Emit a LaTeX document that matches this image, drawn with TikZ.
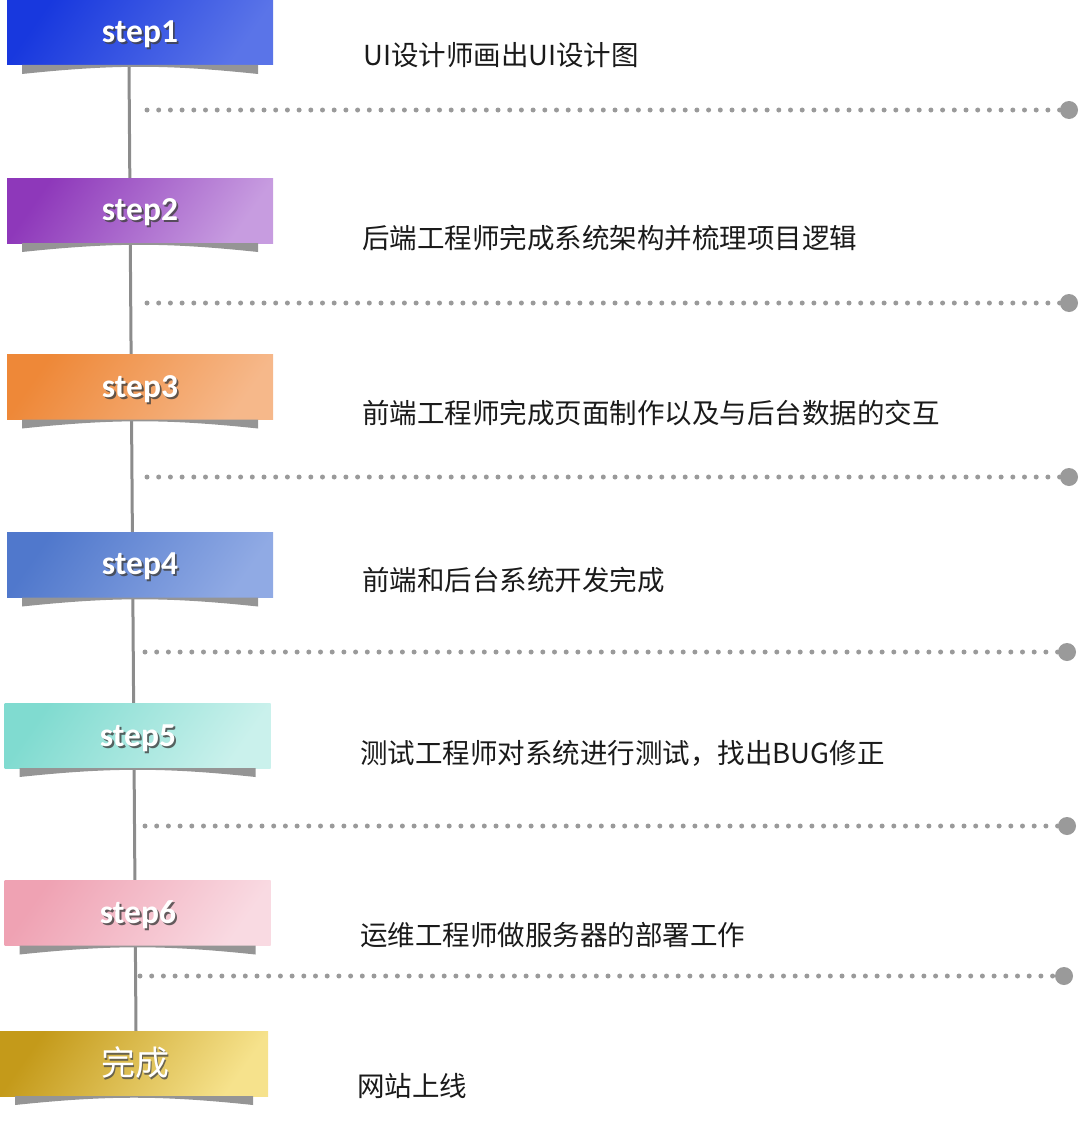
\documentclass[tikz,border=0pt]{standalone}
\usepackage{fontspec}
\newfontfamily\cjk{Noto Sans CJK SC}
\newfontfamily\stepfont{Carlito}
\definecolor{lgray}{HTML}{8C8C8C}
\definecolor{dgray}{HTML}{9A9A9A}
\definecolor{sgray}{HTML}{959595}
\definecolor{txt}{HTML}{1A1A1A}
\definecolor{aL}{HTML}{1838DE}\definecolor{aR}{HTML}{5A74E8}
\definecolor{bL}{HTML}{8E38BA}\definecolor{bR}{HTML}{C79CE0}
\definecolor{cL}{HTML}{EE8838}\definecolor{cR}{HTML}{F6B88A}
\definecolor{dL}{HTML}{5078CC}\definecolor{dR}{HTML}{90AAE4}
\definecolor{eL}{HTML}{80DBD0}\definecolor{eR}{HTML}{CAF1EC}
\definecolor{fL}{HTML}{EFA2B3}\definecolor{fR}{HTML}{F9DAE2}
\definecolor{gL}{HTML}{C49A1A}\definecolor{gR}{HTML}{F6E28C}
\tikzset{
  stepbox/.style={minimum width=266pt, minimum height=65pt, inner sep=0pt, outer sep=0pt},
  steplabel/.style={text=white, font=\stepfont\bfseries\fontsize{33.5}{33.5}\selectfont, inner sep=0pt},
  steplabelsh/.style={text=black!75, opacity=0.8, font=\stepfont\bfseries\fontsize{33.5}{33.5}\selectfont, inner sep=0pt},
  donelabel/.style={text=white, font=\cjk\fontsize{34}{34}\selectfont, inner sep=0pt},
  donelabelsh/.style={text=black!70, opacity=0.8, font=\cjk\fontsize{34}{34}\selectfont, inner sep=0pt},
  desc/.style={anchor=west, text=txt, font=\cjk\fontsize{27.5}{27.5}\selectfont, inner sep=0pt},
  dotline/.style={draw=dgray, line width=5pt, line cap=round, dash pattern=on 0pt off 11.7pt},
  enddot/.style={circle, fill=dgray, minimum size=18pt, inner sep=0pt},
  vline/.style={draw=lgray, line width=3pt},
  shadowfill/.style={fill=sgray}
}
\newcommand{\boxshadow}[1]{%
  \fill[shadowfill] ([xshift=15pt]#1.south west) -- ([xshift=-15pt]#1.south east)
    -- ([xshift=-15pt,yshift=-9pt]#1.south east) to[bend right=6] ([xshift=15pt,yshift=-9pt]#1.south west) -- cycle;}
\begin{document}
\begin{tikzpicture}[x=1pt,y=-1pt]
\useasboundingbox (0,0) rectangle (1080,1124);
% vertical line
\coordinate (vtop) at (129,65);
\coordinate (vbot) at (136,1031);
\draw[vline] (vtop) -- (vbot);
% boxes
\node[stepbox, left color=aL, right color=aR, shading angle=55] (b1) at (140,32.5) {};
\node[stepbox, left color=bL, right color=bR, shading angle=55] (b2) at (140,210.5) {};
\node[stepbox, left color=cL, right color=cR, shading angle=55] (b3) at (140,387) {};
\node[stepbox, left color=dL, right color=dR, shading angle=55] (b4) at (140,565) {};
\node[stepbox, left color=eL, right color=eR, shading angle=55] (b5) at (137.5,735.5) {};
\node[stepbox, left color=fL, right color=fR, shading angle=55] (b6) at (137.5,913) {};
\node[stepbox, minimum width=268pt, left color=gL, right color=gR, shading angle=55] (b7) at (134,1063.5) {};
\boxshadow{b1}\boxshadow{b2}\boxshadow{b3}\boxshadow{b4}\boxshadow{b5}\boxshadow{b6}\boxshadow{b7}
% labels
\node[steplabelsh] (s1) at ([shift={(1.8pt,-1.8pt)}]140,34) {step1};
\node[steplabel] (l1) at (140,34) {step1};
\node[steplabelsh] (s2) at ([shift={(1.8pt,-1.8pt)}]140,212) {step2};
\node[steplabel] (l2) at (140,212) {step2};
\node[steplabelsh] (s3) at ([shift={(1.8pt,-1.8pt)}]140,389) {step3};
\node[steplabel] (l3) at (140,389) {step3};
\node[steplabelsh] (s4) at ([shift={(1.8pt,-1.8pt)}]140,566) {step4};
\node[steplabel] (l4) at (140,566) {step4};
\node[steplabelsh] (s5) at ([shift={(1.8pt,-1.8pt)}]138,738) {step5};
\node[steplabel] (l5) at (138,738) {step5};
\node[steplabelsh] (s6) at ([shift={(1.8pt,-1.8pt)}]138,915) {step6};
\node[steplabel] (l6) at (138,915) {step6};
\node[donelabelsh] (s7) at ([shift={(1.8pt,-1.8pt)}]135,1063) {完成};
\node[donelabel] (l7) at (135,1063) {完成};
% descriptions
\node[desc] (d1) at (363,55) {UI设计师画出UI设计图};
\node[desc] (d2) at (362,238) {后端工程师完成系统架构并梳理项目逻辑};
\node[desc] (d3) at (362,413) {前端工程师完成页面制作以及与后台数据的交互};
\node[desc] (d4) at (362,580) {前端和后台系统开发完成};
\node[desc] (d5) at (360,753) {测试工程师对系统进行测试，找出BUG修正};
\node[desc] (d6) at (360,935) {运维工程师做服务器的部署工作};
\node[desc] (d7) at (357,1086) {网站上线};
% dotted lines
\coordinate (p1) at (147,110); \node[enddot] (e1) at (1069,110) {};
\coordinate (p2) at (147,303); \node[enddot] (e2) at (1069,303) {};
\coordinate (p3) at (147,477); \node[enddot] (e3) at (1069,477) {};
\coordinate (p4) at (145,652); \node[enddot] (e4) at (1067,652) {};
\coordinate (p5) at (145,826); \node[enddot] (e5) at (1067,826) {};
\coordinate (p6) at (140,976); \node[enddot] (e6) at (1064,976) {};
\foreach \i in {1,...,6}{\draw[dotline] (p\i) -- (e\i.west);}
\end{tikzpicture}
\end{document}
